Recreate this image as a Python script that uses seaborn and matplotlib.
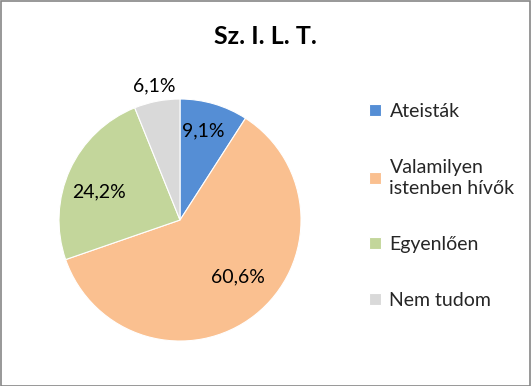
import matplotlib
matplotlib.use("Agg")
import matplotlib.pyplot as plt
import numpy as np
import seaborn as sns
from matplotlib.patches import Rectangle

categories = ["Ateisták", "Valamilyen\nistenben hívők", "Egyenlően", "Nem tudom"]
values = [9.1, 60.6, 24.2, 6.1]
colors = ["#558ED5", "#FAC090", "#C3D69B", "#D9D9D9"]
# label placement (radius fraction, angle shift in degrees) like Excel's "best fit"
label_dist = [0.76, 0.67, 0.71, 1.13]
label_shift = [2.0, 7.3, 5.4, 0.0]

sns.set_theme(style="white")
plt.rcParams["font.family"] = ["Lato", "DejaVu Sans"]

fig = plt.figure(figsize=(5.31, 3.86), dpi=100)
ax = fig.add_axes([0.111, 0.1165, 0.456, 0.627])

palette = sns.color_palette(colors)
wedges, texts = ax.pie(
    values,
    colors=palette,
    startangle=90,
    counterclock=False,
    wedgeprops={"edgecolor": "white", "linewidth": 0.8},
)
ax.set_aspect("equal")
ax.set_xlim(-1, 1)
ax.set_ylim(-1, 1)

# percent labels, Hungarian decimal comma
for w, v, d, s in zip(wedges, values, label_dist, label_shift):
    ang = np.deg2rad((w.theta1 + w.theta2) / 2 + s)
    ax.text(d * np.cos(ang), d * np.sin(ang), f"{v:.1f}%".replace(".", ","),
            ha="center", va="center", fontsize=14, color="#000000")

fig.text(0.5, 0.905, "Sz. I. L. T.", ha="center", va="center",
         fontsize=18, fontweight="bold", color="#000000")

leg = fig.legend(wedges, categories, loc="upper left", bbox_to_anchor=(0.695, 0.733),
                 frameon=False, fontsize=14, handlelength=0.6, handleheight=0.6,
                 handletextpad=0.45, labelspacing=2.0, borderaxespad=0, borderpad=0)
for t in leg.get_texts():
    t.set_linespacing(1.3)

fig.patches.append(Rectangle((0.001, 0.001), 0.997, 0.996, transform=fig.transFigure,
                             fill=False, edgecolor="#868686", linewidth=1.2))

fig.savefig("out.png", dpi=100)
